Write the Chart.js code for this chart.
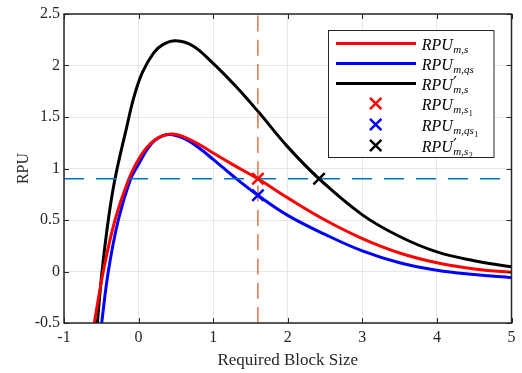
<!DOCTYPE html>
<html>
<head>
<meta charset="utf-8">
<script src="https://cdn.jsdelivr.net/npm/chart.js@4.4.1/dist/chart.umd.min.js"></script>
<style>
  html, body { margin: 0; padding: 0; background: #fff; }
  #wrap { width: 522px; height: 373px; }
</style>
</head>
<body>
<div id="wrap"><canvas id="rpu-chart" width="522" height="373"></canvas></div>
<script>
// values
const xTicks = [-1, 0, 1, 2, 3, 4, 5];
const yTicks = [-0.5, 0, 0.5, 1, 1.5, 2, 2.5];

const redX = [-0.594, -0.473, -0.316, -0.129, 0, 0.11, 0.22, 0.33, 0.45, 0.6, 0.82, 1.0, 1.27, 1.6, 2.0, 2.5, 3.0, 3.5, 4.0, 4.5, 5.0];
const redY = [-0.5, 0, 0.5, 0.9, 1.09, 1.205, 1.28, 1.32, 1.335, 1.31, 1.23, 1.15, 1.035, 0.9, 0.715, 0.5, 0.32, 0.18, 0.085, 0.025, -0.008];

const blueX = [-0.495, -0.406, -0.272, -0.106, 0, 0.11, 0.22, 0.4, 0.6, 0.82, 1.0, 1.27, 1.6, 2.0, 2.5, 3.0, 3.5, 4.0, 4.5, 5.0];
const blueY = [-0.5, 0, 0.5, 0.9, 1.04, 1.18, 1.275, 1.33, 1.295, 1.195, 1.088, 0.925, 0.74, 0.545, 0.36, 0.2, 0.085, 0.012, -0.03, -0.06];

const blackX = [-0.553, -0.49, -0.406, -0.316, -0.16, -0.06, 0.05, 0.2, 0.33, 0.5, 0.73, 1.0, 1.3, 1.6, 2.0, 2.42, 3.0, 3.5, 4.0, 4.5, 5.0];
const blackY = [-0.5, 0, 0.5, 0.9, 1.4, 1.7, 1.93, 2.12, 2.205, 2.24, 2.19, 2.02, 1.8, 1.555, 1.21, 0.9, 0.55, 0.34, 0.19, 0.105, 0.046];

const markX = [1.6, 1.6, 2.42];
const markY = [0.9, 0.74, 0.9];

const thresholdY = 0.9;   // horizontal dashed line
const blockSize = 1.6;    // vertical dashed line

const legendItems = [
  { color: '#ff0000', kind: 'line',  sub: 'm,s' },
  { color: '#0000ff', kind: 'line',  sub: 'm,qs' },
  { color: '#000000', kind: 'line',  sub: 'm,s', prime: true },
  { color: '#ff0000', kind: 'cross', sub: 'm,s', subsub: '1' },
  { color: '#0000ff', kind: 'cross', sub: 'm,qs', subsub: '1' },
  { color: '#000000', kind: 'cross', sub: 'm,s', subsub: '2', prime: true }
];

const pts = (xs, ys) => xs.map((x, i) => ({ x, y: ys[i] }));

const SERIF = '"Liberation Serif", "Times New Roman", serif';
const AXIS_COLOR = '#262626';

function curve(xs, ys, color) {
  return {
    data: pts(xs, ys),
    showLine: true,
    borderColor: color,
    borderWidth: 3,
    pointRadius: 0,
    tension: 0.4,
    order: 2
  };
}

function marker(i, color) {
  return {
    data: [{ x: markX[i], y: markY[i] }],
    showLine: false,
    pointStyle: 'crossRot',
    pointRadius: 8,
    pointBorderWidth: 2.5,
    borderColor: color,
    backgroundColor: color,
    order: 0
  };
}

// inward ticks on all four sides + axes box (MATLAB look)
const boxPlugin = {
  id: 'box',
  afterDatasetsDraw(chart) {
    const { ctx, chartArea: a, scales } = chart;
    ctx.save();
    ctx.strokeStyle = AXIS_COLOR;
    ctx.lineWidth = 1;
    ctx.beginPath();
    xTicks.forEach(v => {
      const px = Math.round(scales.x.getPixelForValue(v)) + 0.5;
      ctx.moveTo(px, a.bottom); ctx.lineTo(px, a.bottom - 5);
      ctx.moveTo(px, a.top); ctx.lineTo(px, a.top + 5);
    });
    yTicks.forEach(v => {
      const py = Math.round(scales.y.getPixelForValue(v)) + 0.5;
      ctx.moveTo(a.left, py); ctx.lineTo(a.left + 5, py);
      ctx.moveTo(a.right, py); ctx.lineTo(a.right - 5, py);
    });
    ctx.stroke();
    ctx.lineWidth = 1.5;
    ctx.strokeRect(a.left, a.top, a.right - a.left, a.bottom - a.top);
    ctx.restore();
  }
};

function drawLabel(ctx, x, y, item) {
  ctx.fillStyle = '#000';
  ctx.textBaseline = 'alphabetic';
  ctx.textAlign = 'left';
  ctx.font = 'italic 16px ' + SERIF;
  ctx.fillText('RPU', x, y);
  const sx = x + ctx.measureText('RPU').width + 0.5;
  if (item.prime) {
    ctx.font = '16px "DejaVu Sans", sans-serif';
    ctx.fillText('\u2032', sx, y - 2);
  }
  ctx.font = 'italic 11px ' + SERIF;
  ctx.fillText(item.sub, sx, y + 3.5);
  if (item.subsub) {
    const w = ctx.measureText(item.sub).width;
    ctx.font = '8px ' + SERIF;
    ctx.fillText(item.subsub, sx + w + 0.5, y + 6);
  }
}

const legendPlugin = {
  id: 'mathLegend',
  afterDraw(chart) {
    const ctx = chart.ctx;
    const box = { x: 328.5, y: 30.5, w: 165.5, h: 127 };
    const rows = [43.5, 63.5, 83.5, 103.5, 124.5, 145.5];
    ctx.save();
    ctx.fillStyle = '#fff';
    ctx.fillRect(box.x, box.y, box.w, box.h);
    ctx.strokeStyle = AXIS_COLOR;
    ctx.lineWidth = 1;
    ctx.strokeRect(box.x, box.y, box.w, box.h);
    legendItems.forEach((item, i) => {
      const cy = rows[i];
      ctx.strokeStyle = item.color;
      if (item.kind === 'line') {
        ctx.lineWidth = 3;
        ctx.beginPath();
        ctx.moveTo(336, cy); ctx.lineTo(416, cy);
        ctx.stroke();
      } else {
        const r = 5.7, cx = 375.7;
        ctx.lineWidth = 2.5;
        ctx.beginPath();
        ctx.moveTo(cx - r, cy - r); ctx.lineTo(cx + r, cy + r);
        ctx.moveTo(cx + r, cy - r); ctx.lineTo(cx - r, cy + r);
        ctx.stroke();
      }
      drawLabel(ctx, 421.7, cy + 6, item);
    });
    ctx.restore();
  }
};

new Chart(document.getElementById('rpu-chart'), {
  type: 'scatter',
  data: {
    datasets: [
      curve(redX, redY, '#ff0000'),
      curve(blueX, blueY, '#0000ff'),
      curve(blackX, blackY, '#000000'),
      marker(0, '#ff0000'),
      marker(1, '#0000ff'),
      marker(2, '#000000'),
      {
        data: [{ x: blockSize, y: -0.5 }, { x: blockSize, y: 2.5 }],
        showLine: true,
        borderColor: '#D95319',
        borderWidth: 1.2,
        borderDash: [16, 8.3],
        pointRadius: 0,
        order: 1
      },
      {
        data: [{ x: -1, y: thresholdY }, { x: 5, y: thresholdY }],
        showLine: true,
        borderColor: '#0072BD',
        borderWidth: 1.5,
        borderDash: [20, 12],
        pointRadius: 0,
        order: 1
      }
    ]
  },
  options: {
    responsive: false,
    animation: false,
    devicePixelRatio: 1,
    events: [],
    layout: { padding: { top: 14, right: 10, left: 0, bottom: 0 } },
    plugins: {
      legend: { display: false },
      tooltip: { enabled: false }
    },
    scales: {
      x: {
        type: 'linear',
        min: -1,
        max: 5,
        afterFit: s => { s.height = 50; },
        afterBuildTicks: s => { s.ticks = xTicks.map(v => ({ value: v })); },
        grid: { color: '#e6e6e6', drawTicks: false },
        border: { display: false },
        ticks: { color: AXIS_COLOR, padding: 5, font: { family: SERIF, size: 16 }, callback: v => String(v) },
        title: {
          display: true,
          text: 'Required Block Size',
          color: AXIS_COLOR,
          font: { family: SERIF, size: 17, lineHeight: 1.2 },
          padding: { top: 0, bottom: 2.3 }
        }
      },
      y: {
        type: 'linear',
        min: -0.5,
        max: 2.5,
        afterFit: s => { s.width = 64; },
        afterBuildTicks: s => { s.ticks = yTicks.map(v => ({ value: v })); },
        grid: { color: '#e6e6e6', drawTicks: false },
        border: { display: false },
        ticks: { color: AXIS_COLOR, padding: 4, font: { family: SERIF, size: 16 }, callback: v => String(v) },
        title: {
          display: true,
          text: 'RPU',
          color: AXIS_COLOR,
          font: { family: SERIF, size: 16, lineHeight: 1.2 },
          padding: { top: 13.7, bottom: 0 }
        }
      }
    }
  },
  plugins: [boxPlugin, legendPlugin]
});
</script>
</body>
</html>
